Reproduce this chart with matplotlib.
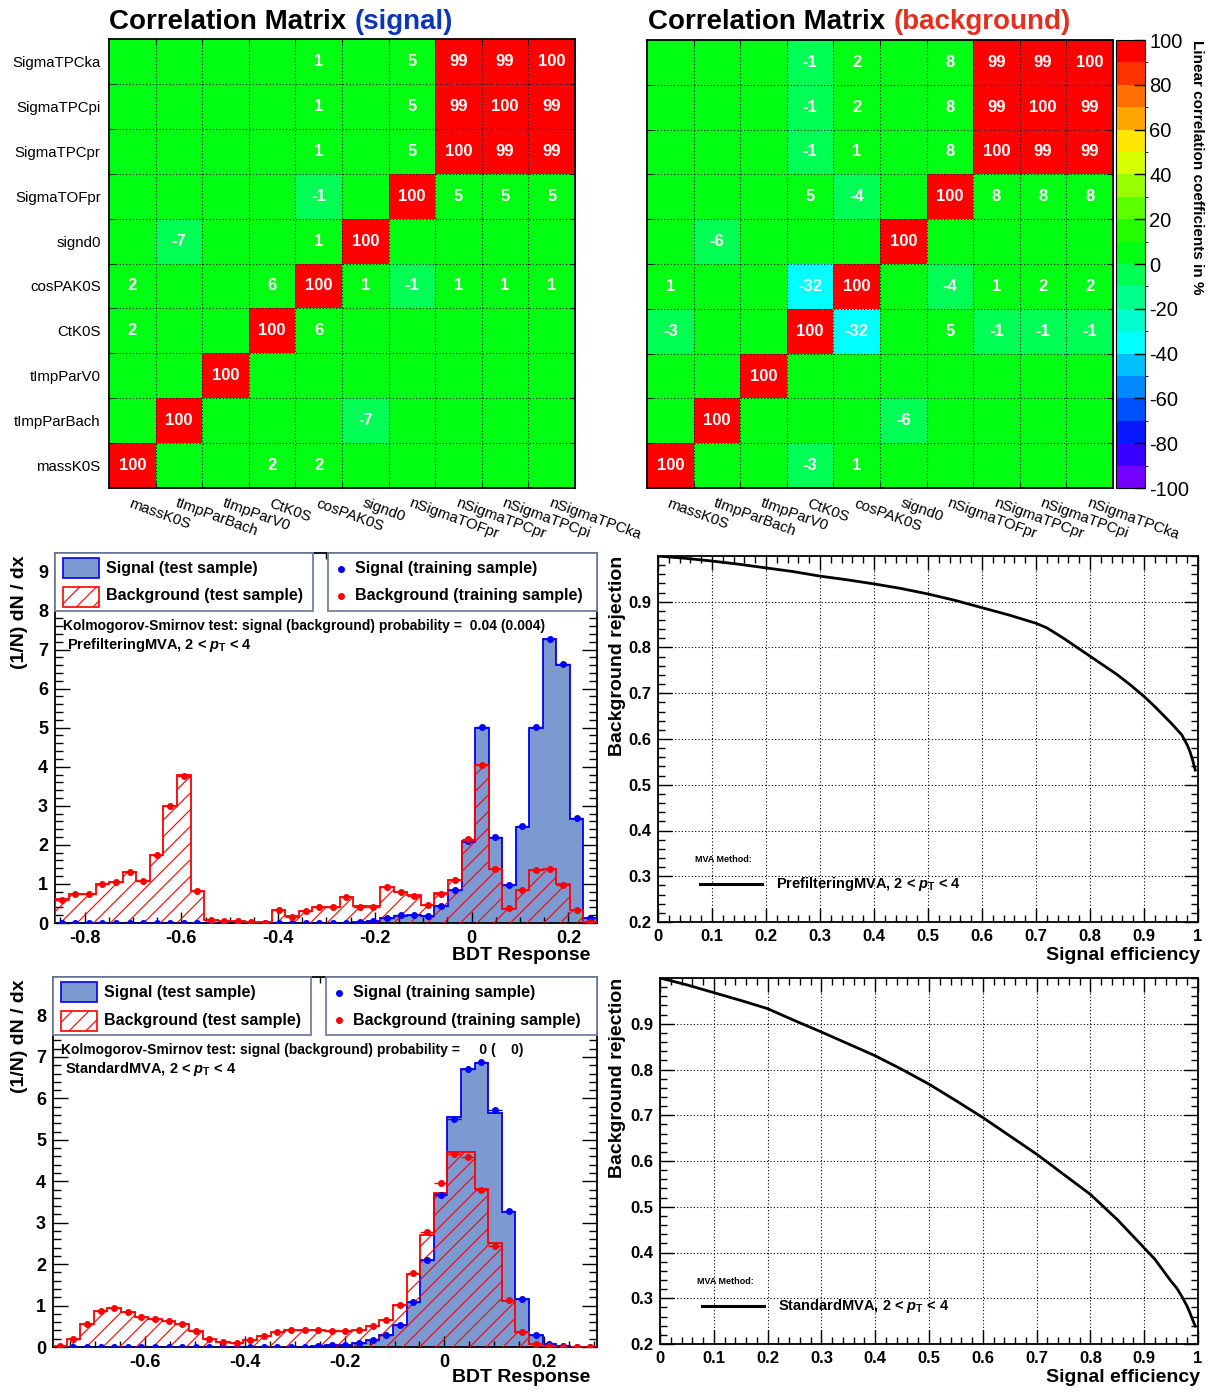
import numpy as np
import matplotlib.pyplot as plt
from matplotlib.colors import ListedColormap, BoundaryNorm
from matplotlib.patches import Rectangle
from matplotlib.lines import Line2D
from matplotlib.ticker import MultipleLocator

plt.rcParams['font.family'] = ['Liberation Sans', 'DejaVu Sans']
plt.rcParams['mathtext.fontset'] = 'custom'
plt.rcParams['mathtext.rm'] = 'Liberation Sans:bold'
plt.rcParams['mathtext.it'] = 'Liberation Sans:italic:bold'
plt.rcParams['mathtext.bf'] = 'Liberation Sans:bold'
plt.rcParams['hatch.linewidth'] = 0.8

# ---------------- input variables / correlations (in %) ----------------
x_vars = ['massK0S', 'tImpParBach', 'tImpParV0', 'CtK0S', 'cosPAK0S', 'signd0',
          'nSigmaTOFpr', 'nSigmaTPCpr', 'nSigmaTPCpi', 'nSigmaTPCka']
y_vars = ['massK0S', 'tImpParBach', 'tImpParV0', 'CtK0S', 'cosPAK0S', 'signd0',
          'SigmaTOFpr', 'SigmaTPCpr', 'SigmaTPCpi', 'SigmaTPCka']

# rows go bottom (massK0S) -> top (SigmaTPCka)
corr_sig = [
    [100, 0, 0, 2, 2, 0, 0, 0, 0, 0],
    [0, 100, 0, 0, 0, -7, 0, 0, 0, 0],
    [0, 0, 100, 0, 0, 0, 0, 0, 0, 0],
    [2, 0, 0, 100, 6, 0, 0, 0, 0, 0],
    [2, 0, 0, 6, 100, 1, -1, 1, 1, 1],
    [0, -7, 0, 0, 1, 100, 0, 0, 0, 0],
    [0, 0, 0, 0, -1, 0, 100, 5, 5, 5],
    [0, 0, 0, 0, 1, 0, 5, 100, 99, 99],
    [0, 0, 0, 0, 1, 0, 5, 99, 100, 99],
    [0, 0, 0, 0, 1, 0, 5, 99, 99, 100],
]
corr_bkg = [
    [100, 0, 0, -3, 1, 0, 0, 0, 0, 0],
    [0, 100, 0, 0, 0, -6, 0, 0, 0, 0],
    [0, 0, 100, 0, 0, 0, 0, 0, 0, 0],
    [-3, 0, 0, 100, -32, 0, 5, -1, -1, -1],
    [1, 0, 0, -32, 100, 0, -4, 1, 2, 2],
    [0, -6, 0, 0, 0, 100, 0, 0, 0, 0],
    [0, 0, 0, 5, -4, 0, 100, 8, 8, 8],
    [0, 0, 0, -1, 1, 0, 8, 100, 99, 99],
    [0, 0, 0, -1, 2, 0, 8, 99, 100, 99],
    [0, 0, 0, -1, 2, 0, 8, 99, 99, 100],
]

palette = ['#7400ff', '#3a00ff', '#0818ff', '#0050ff', '#0088ff', '#00c0ff', '#00ffff', '#00ffcc',
           '#00ff8c', '#00ff55', '#00ff12', '#24ff00', '#5cff00', '#96ff00', '#d6ff00', '#ffe600',
           '#ffa500', '#ff7000', '#ff3300', '#ff0000']

# ---------------- BDT response, 40 bins ----------------
pre_range = (-0.861, 0.259)
pre_sig_test = [0, 0, 0, 0, 0, 0, 0, 0, 0, 0, 0, 0, 0, 0, 0, 0, 0, 0, 0, 0,
                0, 0, 0.02, 0.04, 0.13, 0.19, 0.2, 0.19, 0.43, 0.84,
                2.07, 5.0, 2.18, 0.97, 2.46, 5.0, 7.28, 6.6, 2.67, 0.12]
pre_sig_train = [0, 0, 0, 0, 0, 0, 0, 0, 0, 0, 0, 0, 0, 0, 0, 0, 0, 0, 0, 0,
                 0, 0, 0.03, 0.04, 0.13, 0.2, 0.21, 0.19, 0.44, 0.85,
                 2.1, 5.02, 2.2, 0.98, 2.48, 5.01, 7.28, 6.62, 2.68, 0.13]
pre_bkg_test = [0.62, 0.73, 0.73, 1.0, 1.05, 1.3, 1.08, 1.75, 3.0, 3.78,
                0.83, 0.07, 0.05, 0.04, 0.03, 0.02, 0.33, 0.17, 0.31, 0.41,
                0.42, 0.67, 0.43, 0.43, 0.93, 0.8, 0.71, 0.45, 0.76, 1.1,
                2.1, 4.05, 1.38, 0.37, 0.84, 1.35, 1.38, 0.99, 0.33, 0.02]
pre_bkg_train = [0.6, 0.73, 0.74, 1.0, 1.04, 1.31, 1.08, 1.75, 3.0, 3.75,
                 0.82, 0.08, 0.05, 0.04, 0.03, 0.01, 0.33, 0.15, 0.3, 0.4,
                 0.41, 0.66, 0.42, 0.42, 0.92, 0.8, 0.7, 0.46, 0.75, 1.1,
                 2.14, 4.05, 1.38, 0.38, 0.85, 1.35, 1.39, 0.98, 0.33, 0.02]

std_range = (-0.785, 0.306)
std_sig_test = [0, 0, 0, 0, 0, 0, 0, 0, 0, 0, 0, 0, 0, 0, 0, 0, 0, 0, 0.01, 0.02,
                0.04, 0.06, 0.1, 0.18, 0.3, 0.52, 1.08, 2.1, 3.7, 5.55,
                6.72, 6.85, 5.65, 3.25, 1.15, 0.28, 0.07, 0.03, 0.01, 0]
std_sig_train = [0, 0, 0, 0, 0, 0, 0, 0, 0, 0, 0, 0, 0, 0, 0, 0, 0, 0, 0.01, 0.02,
                 0.04, 0.06, 0.1, 0.18, 0.3, 0.52, 1.08, 2.1, 3.68, 5.5,
                 6.72, 6.87, 5.72, 3.28, 1.15, 0.28, 0.07, 0.03, 0.01, 0]
std_bkg_test = [0.02, 0.2, 0.56, 0.88, 0.95, 0.85, 0.72, 0.67, 0.63, 0.55,
                0.39, 0.2, 0.12, 0.1, 0.16, 0.27, 0.35, 0.4, 0.41, 0.42,
                0.39, 0.39, 0.42, 0.5, 0.66, 1.02, 1.75, 2.7, 3.72, 4.7,
                4.7, 3.82, 2.5, 1.12, 0.36, 0.08, 0.03, 0.01, 0, 0]
std_bkg_train = [0.02, 0.2, 0.56, 0.88, 0.95, 0.85, 0.72, 0.67, 0.63, 0.55,
                 0.39, 0.2, 0.12, 0.1, 0.16, 0.27, 0.35, 0.4, 0.41, 0.42,
                 0.39, 0.39, 0.42, 0.5, 0.66, 1.02, 1.78, 2.78, 3.96, 4.67,
                 4.59, 3.8, 2.43, 1.13, 0.36, 0.08, 0.03, 0.01, 0, 0]

# ---------------- ROC curves ----------------
roc_pre_eff = [0, 0.05, 0.1, 0.15, 0.2, 0.25, 0.3, 0.35, 0.4, 0.45, 0.5, 0.55, 0.6, 0.65,
               0.7, 0.72, 0.75, 0.8, 0.825, 0.85, 0.875, 0.9, 0.92, 0.95, 0.96, 0.97,
               0.98, 0.985, 0.99, 0.995]
roc_pre_rej = [1.0, 0.995, 0.989, 0.982, 0.974, 0.966, 0.956, 0.948, 0.939, 0.929, 0.917,
               0.903, 0.887, 0.871, 0.853, 0.843, 0.821, 0.781, 0.761, 0.741, 0.718, 0.693,
               0.671, 0.635, 0.622, 0.609, 0.587, 0.573, 0.554, 0.532]
roc_std_eff = [0, 0.05, 0.1, 0.15, 0.2, 0.25, 0.3, 0.35, 0.4, 0.45, 0.5, 0.55, 0.6, 0.65,
               0.7, 0.75, 0.8, 0.85, 0.9, 0.92, 0.95, 0.96, 0.97, 0.98, 0.985, 0.99, 0.995]
roc_std_rej = [1.0, 0.985, 0.968, 0.951, 0.933, 0.907, 0.882, 0.856, 0.830, 0.800, 0.768,
               0.732, 0.695, 0.655, 0.615, 0.571, 0.527, 0.472, 0.410, 0.385, 0.337, 0.323,
               0.304, 0.282, 0.268, 0.253, 0.239]

W, H = 1214, 1392
fig = plt.figure(figsize=(W / 100, H / 100), dpi=100)


def fx(px):
    return px / W


def fy(py):
    return 1 - py / H


def add_axes_px(x0, y0, x1, y1):
    return fig.add_axes([fx(x0), fy(y1), (x1 - x0) / W, (y1 - y0) / H])


cmap = ListedColormap(palette)
cmap.set_over(palette[-1])
cmap.set_under(palette[0])
norm = BoundaryNorm(np.arange(-100, 101, 10), cmap.N)


def draw_matrix(ax, mat, show_ylabels):
    m = np.array(mat)
    n = m.shape[0]
    mesh = ax.pcolormesh(np.arange(n + 1), np.arange(n + 1), m, cmap=cmap, norm=norm)
    for i in range(n):
        for j in range(n):
            if m[i, j] != 0:
                ax.text(j + 0.5, i + 0.5, str(m[i, j]), color='white', fontsize=12,
                        fontweight='bold', ha='center', va='center')
    ax.set_xlim(0, n)
    ax.set_ylim(0, n)
    ax.set_xticks(np.arange(n) + 0.5, x_vars, rotation=-20, ha='left', va='top',
                  rotation_mode='anchor', fontsize=10.8)
    if show_ylabels:
        ax.set_yticks(np.arange(n) + 0.5, y_vars, fontsize=10.8)
    else:
        ax.set_yticks(np.arange(n) + 0.5, [''] * n)
    ax.set_xticks(np.arange(1, n), minor=True)
    ax.set_yticks(np.arange(1, n), minor=True)
    ax.tick_params(which='major', length=0, pad=6)
    ax.tick_params(which='minor', direction='in', length=4, top=True, right=True)
    ax.grid(which='minor', color='black', ls=(0, (1, 2)), lw=0.8)
    for s in ax.spines.values():
        s.set_linewidth(1.3)
    return mesh


def draw_title(ax, x, y, word, color):
    t = fig.text(fx(x), fy(y), 'Correlation Matrix', fontsize=20, fontweight='bold',
                 va='baseline')
    ax.annotate(word, xy=(1, 0), xycoords=t, xytext=(6, 0), textcoords='offset points',
                fontsize=20, fontweight='bold', color=color, va='bottom',
                annotation_clip=False)


ax_sig = add_axes_px(109, 39, 575, 488)
draw_matrix(ax_sig, corr_sig, True)
draw_title(ax_sig, 109, 29, '(signal)', '#0a36b8')

ax_bkg = add_axes_px(647, 40, 1113, 488)
mesh = draw_matrix(ax_bkg, corr_bkg, False)
draw_title(ax_bkg, 648, 29, '(background)', '#e0301e')

cax = add_axes_px(1116, 40, 1145, 488)
cb = fig.colorbar(mesh, cax=cax, ticks=np.arange(-100, 101, 20))
cb.outline.set_linewidth(0.8)
cax.tick_params(direction='in', length=8, width=1, labelsize=14.5, pad=3)
cax.yaxis.set_ticks_position('right')
cb.set_ticks(np.arange(-100, 101, 20), labels=[str(v) for v in range(-100, 101, 20)])
fig.text(fx(1197), fy(40), 'Linear correlation coefficients in %', rotation=-90,
         rotation_mode='anchor', ha='left', va='center', fontsize=11, fontweight='bold')


def fmt(v):
    v = round(v, 3) + 0.0
    return f'{v:g}'


def draw_hist(ax, lo, hi, sig_test, sig_train, bkg_test, bkg_train, ymax, xticks):
    edges = np.linspace(lo, hi, len(sig_test) + 1)
    centers = 0.5 * (edges[1:] + edges[:-1])
    half = 0.5 * (edges[1] - edges[0])
    ax.stairs(sig_test, edges, fill=True, facecolor='#7d99d1', edgecolor='none', zorder=1)
    ax.stairs(sig_test, edges, color='#0000ee', lw=1.3, zorder=2)
    ax.stairs(bkg_test, edges, fill=True, facecolor='none', edgecolor='red', hatch='//',
              lw=0, zorder=3)
    ax.stairs(bkg_test, edges, color='red', lw=1.3, zorder=4)
    ax.errorbar(centers, sig_train, xerr=half, fmt='o', ms=4, color='blue',
                elinewidth=1, capsize=0, zorder=5)
    ax.errorbar(centers, bkg_train, xerr=half, fmt='o', ms=4, color='red',
                elinewidth=1, capsize=0, zorder=6)
    ax.set_xlim(lo, hi)
    ax.set_ylim(0, ymax)
    ax.set_xticks(xticks, [fmt(v) for v in xticks], fontsize=13, fontweight='bold')
    yt = np.arange(0, int(ymax) + 1)
    ax.set_yticks(yt, [str(v) for v in yt], fontsize=13, fontweight='bold')
    ax.xaxis.set_minor_locator(MultipleLocator(0.05))
    ax.yaxis.set_minor_locator(MultipleLocator(0.2))
    ax.tick_params(which='both', direction='in', top=True, right=True, width=1)
    ax.tick_params(axis='y', which='major', length=11, pad=5)
    ax.tick_params(axis='y', which='minor', length=5.5)
    ax.tick_params(axis='x', which='major', length=8, pad=5)
    ax.tick_params(axis='x', which='minor', length=4.5)
    for s in ax.spines.values():
        s.set_linewidth(1.3)


def hist_decor(ax_px, method, ks):
    x0, y0, x1 = ax_px
    # legend boxes
    fig.add_artist(Rectangle((fx(x0), fy(y0 + 58)), (258) / W, 58 / H, transform=fig.transFigure,
                             facecolor='white', edgecolor='#7080a0', lw=1.3, zorder=10))
    fig.add_artist(Rectangle((fx(x0 + 273), fy(y0 + 58)), (x1 - x0 - 273) / W, 58 / H,
                             transform=fig.transFigure, facecolor='white',
                             edgecolor='#7080a0', lw=1.3, zorder=10))
    fig.add_artist(Rectangle((fx(x0 + 8), fy(y0 + 25)), 36 / W, 20 / H, transform=fig.transFigure,
                             facecolor='#7d99d1', edgecolor='#0000ee', lw=1.2, zorder=11))
    fig.add_artist(Rectangle((fx(x0 + 8), fy(y0 + 54)), 36 / W, 20 / H, transform=fig.transFigure,
                             facecolor='white', edgecolor='red', hatch='//', lw=1.2, zorder=11))
    fig.text(fx(x0 + 51), fy(y0 + 16), 'Signal (test sample)', fontsize=11.5,
             fontweight='bold', va='center', zorder=12)
    fig.text(fx(x0 + 51), fy(y0 + 43), 'Background (test sample)', fontsize=11.5,
             fontweight='bold', va='center', zorder=12)
    fig.add_artist(Line2D([fx(x0 + 286)], [fy(y0 + 16)], marker='o', ms=4, color='blue',
                          transform=fig.transFigure, zorder=12))
    fig.add_artist(Line2D([fx(x0 + 286)], [fy(y0 + 43)], marker='o', ms=4, color='red',
                          transform=fig.transFigure, zorder=12))
    fig.text(fx(x0 + 300), fy(y0 + 16), 'Signal (training sample)', fontsize=11.5,
             fontweight='bold', va='center', zorder=12)
    fig.text(fx(x0 + 300), fy(y0 + 43), 'Background (training sample)', fontsize=11.5,
             fontweight='bold', va='center', zorder=12)
    fig.text(fx(x0 + 8), fy(y0 + 73), ks, fontsize=10, fontweight='bold', va='center')
    fig.text(fx(x0 + 12), fy(y0 + 92), method + r', 2 < $\mathit{p}_{\mathrm{T}}$ < 4',
             fontsize=10.5, fontweight='bold', va='center')
    fig.text(fx(20), fy(y0 + 2), '(1/N) dN / dx', rotation=90, rotation_mode='anchor',
             ha='right', va='center', fontsize=14, fontweight='bold')


ax_h1 = add_axes_px(55, 553, 597, 923)
draw_hist(ax_h1, *pre_range, pre_sig_test, pre_sig_train, pre_bkg_test, pre_bkg_train,
          9.47, np.arange(-0.8, 0.21, 0.2))
hist_decor((55, 553, 597), 'PrefilteringMVA',
           'Kolmogorov-Smirnov test: signal (background) probability =  0.04 (0.004)')
fig.text(fx(590), fy(955), 'BDT Response', ha='right', va='center', fontsize=14,
         fontweight='bold')

ax_h2 = add_axes_px(53, 977, 597, 1347)
draw_hist(ax_h2, *std_range, std_sig_test, std_sig_train, std_bkg_test, std_bkg_train,
          8.93, np.arange(-0.6, 0.21, 0.2))
hist_decor((53, 977, 597), 'StandardMVA',
           'Kolmogorov-Smirnov test: signal (background) probability =     0 (    0)')
fig.text(fx(590), fy(1377), 'BDT Response', ha='right', va='center', fontsize=14,
         fontweight='bold')


def draw_roc(ax, eff, rej, ax_px, method):
    x0, y0 = ax_px
    ax.plot(eff, rej, color='black', lw=2)
    ax.set_xlim(0, 1)
    ax.set_ylim(0.2, 1.0)
    xt = np.round(np.arange(0, 1.01, 0.1), 1)
    yt = np.round(np.arange(0.2, 0.91, 0.1), 1)
    ax.set_xticks(xt, [fmt(v) for v in xt], fontsize=12, fontweight='bold')
    ax.set_yticks(yt, [fmt(v) for v in yt], fontsize=12, fontweight='bold')
    ax.xaxis.set_minor_locator(MultipleLocator(0.02))
    ax.yaxis.set_minor_locator(MultipleLocator(0.02))
    ax.tick_params(which='both', direction='in', top=True, right=True, width=1)
    ax.tick_params(which='major', length=10, pad=5)
    ax.tick_params(which='minor', length=5)
    ax.grid(which='major', color='black', ls=(0, (1, 2)), lw=0.8)
    for s in ax.spines.values():
        s.set_linewidth(1.3)
    fig.text(fx(x0 + 37), fy(y0 + 303), 'MVA Method:', fontsize=6.5, fontweight='bold',
             va='center')
    fig.add_artist(Line2D([fx(x0 + 42), fx(x0 + 104)], [fy(y0 + 328)] * 2, color='black',
                          lw=2.2, transform=fig.transFigure))
    fig.text(fx(x0 + 118), fy(y0 + 328), method + r', 2 < $\mathit{p}_{\mathrm{T}}$ < 4',
             fontsize=10.5, fontweight='bold', va='center')
    fig.text(fx(617), fy(y0), 'Background rejection', rotation=90, rotation_mode='anchor',
             ha='right', va='center', fontsize=14, fontweight='bold')


ax_r1 = add_axes_px(658, 556, 1198, 922)
draw_roc(ax_r1, roc_pre_eff, roc_pre_rej, (658, 556), 'PrefilteringMVA')
fig.text(fx(1200), fy(955), 'Signal efficiency', ha='right', va='center', fontsize=14,
         fontweight='bold')

ax_r2 = add_axes_px(660, 978, 1198, 1344)
draw_roc(ax_r2, roc_std_eff, roc_std_rej, (660, 978), 'StandardMVA')
fig.text(fx(1200), fy(1378), 'Signal efficiency', ha='right', va='center', fontsize=14,
         fontweight='bold')

fig.savefig('out.png', dpi=100)
